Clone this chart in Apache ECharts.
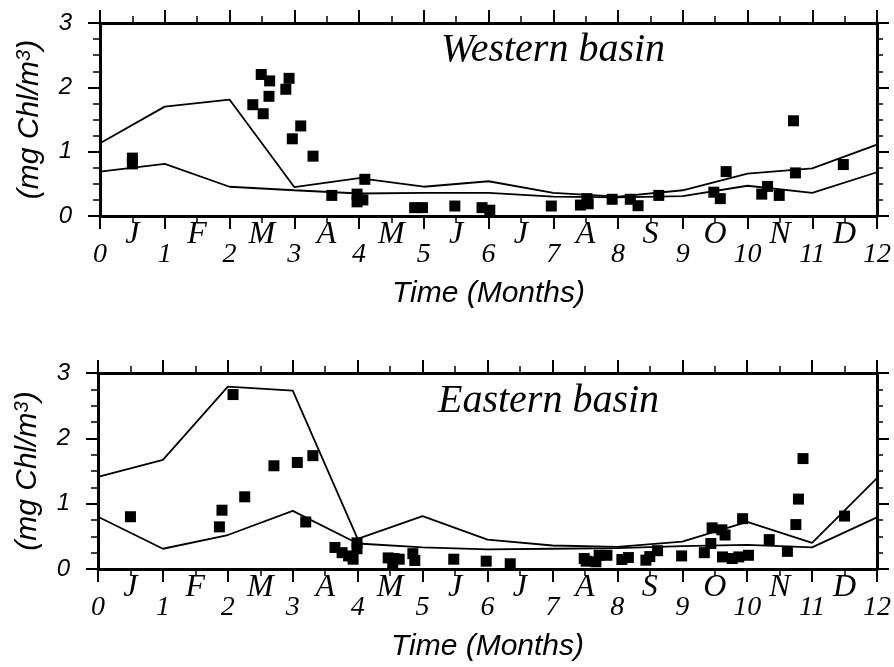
<!DOCTYPE html>
<html>
<head>
<meta charset="utf-8">
<script src="https://cdn.jsdelivr.net/npm/echarts@6/dist/echarts.min.js"></script>
<style>
html,body{margin:0;padding:0;background:#fff;}
#c{width:894px;height:667px;}
</style>
</head>
<body>
<div id="c"></div>
<script>
// ---- data ----
var modelMonths = [0,1,2,3,4,5,6,7,8,9,10,11,12];
var monthLetters = ['J','F','M','A','M','J','J','A','S','O','N','D'];
var yTicks = [0,1,2,3];

var westUpper = [1.13,1.70,1.81,0.45,0.59,0.455,0.54,0.36,0.30,0.40,0.66,0.74,1.11];
var westLower = [0.69,0.81,0.455,0.40,0.35,0.36,0.36,0.30,0.29,0.31,0.47,0.36,0.68];
var westObsMonth = [0.50,0.50,2.36,2.49,2.52,2.62,2.61,2.87,2.92,2.97,3.10,3.29,3.58,3.97,3.97,4.06,4.09,4.86,4.98,5.48,5.90,6.02,6.97,7.42,7.52,7.54,7.91,8.19,8.31,8.63,9.48,9.58,9.67,10.22,10.31,10.49,10.71,10.74,11.48];
var westObsChl   = [0.90,0.81,1.73,2.20,1.59,2.10,1.86,1.97,2.14,1.20,1.40,0.93,0.32,0.34,0.22,0.25,0.57,0.13,0.13,0.155,0.13,0.09,0.155,0.17,0.27,0.19,0.26,0.26,0.16,0.32,0.37,0.27,0.69,0.34,0.46,0.32,1.48,0.67,0.80];

var eastUpper = [1.41,1.67,2.79,2.73,0.46,0.81,0.45,0.36,0.34,0.42,0.72,0.40,1.39];
var eastLower = [0.80,0.31,0.52,0.89,0.39,0.33,0.30,0.31,0.32,0.35,0.37,0.33,0.79];
var eastObsMonth = [0.50,1.87,1.91,2.08,2.26,2.71,3.07,3.31,3.20,3.65,3.76,3.86,3.93,3.99,3.99,4.47,4.56,4.54,4.64,4.85,4.88,5.48,5.98,6.35,7.49,7.52,7.67,7.72,7.84,8.07,8.17,8.44,8.50,8.62,8.99,9.34,9.44,9.46,9.61,9.66,9.62,9.77,9.87,9.93,10.02,10.34,10.62,10.75,10.79,10.86,11.50];
var eastObsChl   = [0.80,0.645,0.90,2.67,1.105,1.58,1.63,1.735,0.72,0.33,0.25,0.20,0.15,0.40,0.31,0.17,0.16,0.08,0.15,0.235,0.13,0.15,0.12,0.08,0.16,0.12,0.11,0.21,0.21,0.145,0.175,0.135,0.19,0.28,0.20,0.25,0.39,0.63,0.60,0.52,0.185,0.16,0.185,0.77,0.21,0.45,0.27,0.68,1.07,1.69,0.81];

// ---- helpers ----
function zip(a,b){ return a.map(function(v,i){ return [v,b[i]]; }); }
var SERIF = '"Liberation Serif","Times New Roman",serif';
var SANS = '"Liberation Sans",Arial,sans-serif';

function xAxes(gi){
  return [
    { gridIndex:gi, type:'value', position:'bottom', min:0, max:12, interval:1,
      axisLine:{show:true,onZero:false,lineStyle:{color:'#000',width:3}},
      axisTick:{show:true,inside:false,length:13,lineStyle:{color:'#000',width:2}},
      minorTick:{show:true,splitNumber:2,length:7,lineStyle:{color:'#000',width:1.5}},
      splitLine:{show:false},
      axisLabel:{margin:25,color:'#000',fontFamily:SERIF,fontStyle:'italic',fontSize:28,
        formatter:function(v){ return String(v); }},
      name:'Time (Months)', nameLocation:'middle', nameGap:63,
      nameTextStyle:{fontFamily:SANS,fontStyle:'italic',fontSize:30,color:'#000'}
    },
    { gridIndex:gi, type:'value', position:'bottom', min:0, max:12, interval:0.5,
      axisLine:{show:false}, axisTick:{show:false}, splitLine:{show:false},
      axisLabel:{margin:3,color:'#000',fontFamily:SERIF,fontStyle:'italic',fontSize:32,
        formatter:function(v){
          var k = Math.round(v*2);
          if (k % 2 === 1) return monthLetters[(k-1)/2];
          return '';
        }}
    },
    { gridIndex:gi, type:'value', position:'top', min:0, max:12, interval:1,
      axisLine:{show:true,onZero:false,lineStyle:{color:'#000',width:3}},
      axisTick:{show:true,inside:false,length:13,lineStyle:{color:'#000',width:2}},
      minorTick:{show:true,splitNumber:2,length:7,lineStyle:{color:'#000',width:1.5}},
      splitLine:{show:false}, axisLabel:{show:false}
    }
  ];
}
function yAxes(gi){
  return [
    { gridIndex:gi, type:'value', position:'left', min:0, max:3, interval:1,
      axisLine:{show:true,onZero:false,lineStyle:{color:'#000',width:3}},
      axisTick:{show:true,inside:false,length:12,lineStyle:{color:'#000',width:2}},
      minorTick:{show:true,splitNumber:4,length:7,lineStyle:{color:'#000',width:1.5}},
      splitLine:{show:false},
      axisLabel:{margin:28,color:'#000',fontFamily:SANS,fontStyle:'italic',fontSize:24,
        formatter:function(v){ return yTicks.indexOf(v) >= 0 ? String(v) : ''; }},
      name:'{a|(mg Chl/m}{s|3}{a|)}', nameLocation:'middle', nameGap:54, nameRotate:90,
      nameTextStyle:{rich:{
        a:{fontFamily:SANS,fontStyle:'italic',fontSize:30,color:'#000'},
        s:{fontFamily:SANS,fontStyle:'italic',fontSize:20,color:'#000',verticalAlign:'top',padding:[0,0,12,0]}
      }}
    },
    { gridIndex:gi, type:'value', position:'right', min:0, max:3, interval:1,
      axisLine:{show:true,onZero:false,lineStyle:{color:'#000',width:3}},
      axisTick:{show:true,inside:false,length:12,lineStyle:{color:'#000',width:2}},
      minorTick:{show:true,splitNumber:4,length:6,lineStyle:{color:'#000',width:1.5}},
      splitLine:{show:false}, axisLabel:{show:false}
    }
  ];
}
function lineSeries(xi, yi, data){
  return { type:'line', xAxisIndex:xi, yAxisIndex:yi, data:zip(modelMonths,data),
    symbol:'none', lineStyle:{color:'#000',width:1.8}, silent:true, animation:false };
}
function scatterSeries(xi, yi, mx, vy){
  return { type:'scatter', xAxisIndex:xi, yAxisIndex:yi, data:zip(mx,vy),
    symbol:'rect', symbolSize:11, itemStyle:{color:'#000',opacity:1}, animation:false };
}

var chart = echarts.init(document.getElementById('c'), null, {renderer:'canvas'});
chart.setOption({
  animation:false,
  backgroundColor:'#fff',
  title:[
    {text:'Western basin', left:441, top:30, padding:0,
     textStyle:{fontFamily:SERIF,fontStyle:'italic',fontWeight:'normal',fontSize:40,color:'#000'}},
    {text:'Eastern basin', left:438, top:381, padding:0,
     textStyle:{fontFamily:SERIF,fontStyle:'italic',fontWeight:'normal',fontSize:40,color:'#000'}}
  ],
  grid:[
    {left:100, top:23, width:782, height:193},
    {left:98, top:373, width:780, height:196}
  ],
  xAxis: xAxes(0).concat(xAxes(1)),
  yAxis: yAxes(0).concat(yAxes(1)),
  series:[
    lineSeries(0,0,westUpper),
    lineSeries(0,0,westLower),
    scatterSeries(0,0,westObsMonth,westObsChl),
    lineSeries(3,2,eastUpper),
    lineSeries(3,2,eastLower),
    scatterSeries(3,2,eastObsMonth,eastObsChl)
  ]
});
</script>
</body>
</html>
